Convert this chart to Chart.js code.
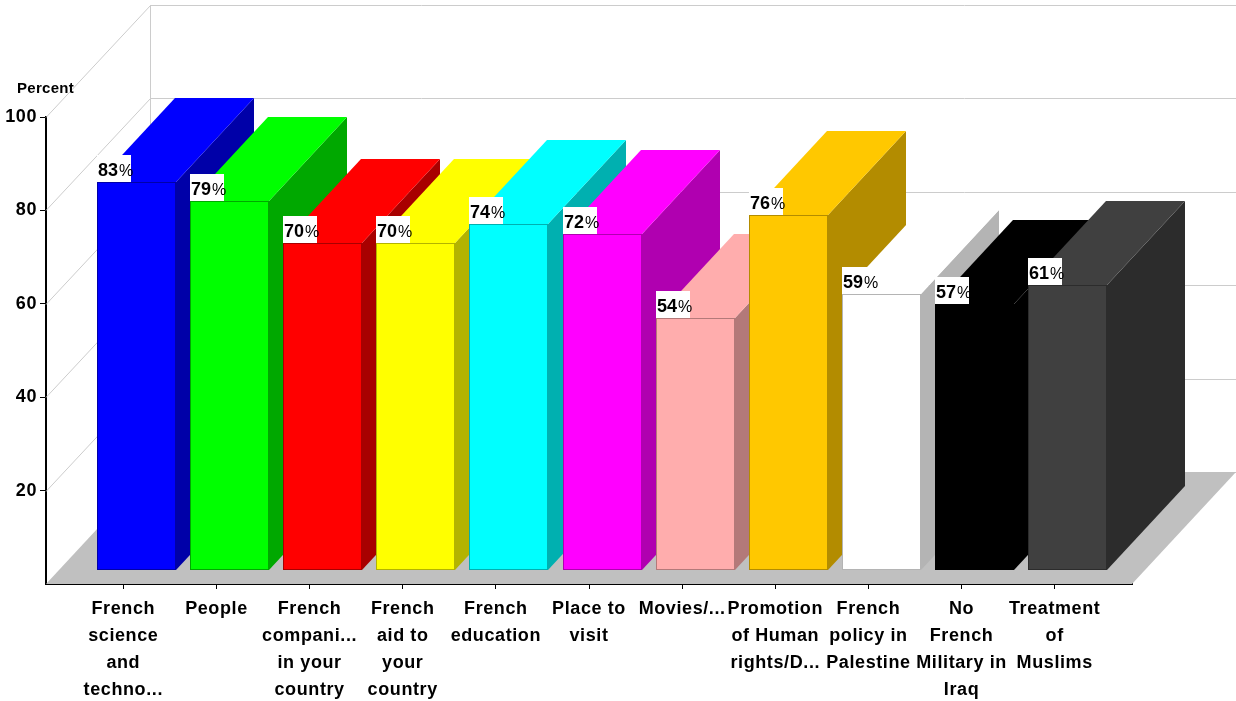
<!DOCTYPE html>
<html>
<head>
<meta charset="utf-8">
<title>Percent by category</title>
<script src="https://cdn.jsdelivr.net/npm/chart.js@4/dist/chart.umd.min.js"></script>
<style>
  html, body { margin: 0; padding: 0; background: #ffffff; }
  #wrap { width: 1236px; height: 701px; position: relative; }
</style>
</head>
<body>
<div id="wrap"><canvas id="chart"></canvas></div>
<script>
// Category labels, already broken into lines
const categories = [
  ["French", "science", "and", "techno..."],
  ["People"],
  ["French", "compani...", "in your", "country"],
  ["French", "aid to", "your", "country"],
  ["French", "education"],
  ["Place to", "visit"],
  ["Movies/..."],
  ["Promotion", "of Human", "rights/D..."],
  ["French", "policy in", "Palestine"],
  ["No", "French", "Military in", "Iraq"],
  ["Treatment", "of", "Muslims"]
];

// Percent values
const values = [83, 79, 70, 70, 74, 72, 54, 76, 59, 57, 61];

// Face colours of each column
const frontColors = ["#0000ff", "#00ff00", "#ff0000", "#ffff00", "#00ffff", "#ff00ff",
                     "#ffadad", "#ffc800", "#ffffff", "#000000", "#404040"];
const sideColors  = ["#0000a8", "#00a800", "#a80000", "#b3b300", "#00b0b0", "#b000b0",
                     "#b37979", "#b38c00", "#b4b4b4", "#000000", "#2c2c2c"];

// Value axis ticks
const yTicks = [0, 20, 40, 60, 80, 100];
const yTitle = "Percent";

const FONT = "'Liberation Sans', Arial, sans-serif";

// slightly wider text tracking for all canvas text
const tracking = {
  id: 'tracking',
  beforeDraw(chart) { chart.ctx.letterSpacing = '0.6px'; }
};

// 3D box drawing: walls, floor, columns and value labels
const box3d = {
  id: 'box3d',
  beforeDatasetsDraw(chart) {
    const { ctx, chartArea: a, scales: { y } } = chart;
    const dx = 104, dy = -112;        // depth of the plot box
    const f0 = 0.125, f1 = 0.875;     // column depth span within the box
    ctx.save();

    // wall grid lines
    ctx.strokeStyle = '#cccccc';
    ctx.lineWidth = 1;
    ctx.beginPath();
    yTicks.forEach(v => {
      const py = Math.round(y.getPixelForValue(v)) + 0.5;
      if (v > 0) {
        ctx.moveTo(a.left, py);
        ctx.lineTo(a.left + dx + 0.5, py + dy);
      }
      ctx.moveTo(a.left + dx, py + dy);
      ctx.lineTo(a.right + dx, py + dy);
    });
    const wx = Math.round(a.left + dx) + 0.5;
    ctx.moveTo(wx, a.top + dy);
    ctx.lineTo(wx, a.bottom + dy);
    ctx.stroke();

    // floor
    ctx.fillStyle = '#c0c0c0';
    ctx.beginPath();
    ctx.moveTo(a.left, a.bottom);
    ctx.lineTo(a.right, a.bottom);
    ctx.lineTo(a.right + dx, a.bottom + dy);
    ctx.lineTo(a.left + dx, a.bottom + dy);
    ctx.closePath();
    ctx.fill();

    // columns
    const meta = chart.getDatasetMeta(0);
    const ddx = dx * (f1 - f0), ddy = dy * (f1 - f0);
    const boxes = [];
    meta.data.forEach((bar, i) => {
      const w = Math.round(bar.width);
      const x0 = Math.round(bar.x - bar.width / 2 + dx * f0);
      const top = Math.round(bar.y + dy * f0);
      const bot = Math.round(bar.base + dy * f0);
      // right side
      ctx.fillStyle = sideColors[i];
      ctx.beginPath();
      ctx.moveTo(x0 + w, top);
      ctx.lineTo(x0 + w + ddx, top + ddy);
      ctx.lineTo(x0 + w + ddx, bot + ddy);
      ctx.lineTo(x0 + w, bot);
      ctx.closePath();
      ctx.fill();
      // top
      ctx.fillStyle = frontColors[i];
      ctx.beginPath();
      ctx.moveTo(x0, top);
      ctx.lineTo(x0 + ddx, top + ddy);
      ctx.lineTo(x0 + w + ddx, top + ddy);
      ctx.lineTo(x0 + w, top);
      ctx.closePath();
      ctx.fill();
      // front
      ctx.fillRect(x0, top, w, bot - top);
      ctx.strokeStyle = sideColors[i];
      ctx.strokeRect(x0 + 0.5, top + 0.5, w - 1, bot - top - 1);
      boxes.push({ x: x0, top, v: values[i] });
    });

    // value labels
    ctx.letterSpacing = '0px';
    boxes.forEach(b => {
      ctx.fillStyle = '#ffffff';
      ctx.fillRect(b.x, b.top - 27, 34, 27);
      ctx.fillStyle = '#000000';
      ctx.textBaseline = 'alphabetic';
      ctx.textAlign = 'left';
      ctx.font = `bold 18px ${FONT}`;
      const num = String(b.v);
      ctx.fillText(num, b.x + 1, b.top - 6);
      const nw = ctx.measureText(num).width;
      ctx.font = `16px ${FONT}`;
      ctx.fillText('%', b.x + 2 + nw, b.top - 6);
    });

    // axis title
    ctx.letterSpacing = '0.3px';
    ctx.font = `bold 15px ${FONT}`;
    ctx.fillStyle = '#000000';
    ctx.fillText(yTitle, 17, 93);

    ctx.restore();
    return false;
  }
};

new Chart(document.getElementById('chart'), {
  type: 'bar',
  data: {
    datasets: [{
      data: values.map((v, i) => ({ x: i, y: v })),
      backgroundColor: frontColors,
      barPercentage: 0.848,
      categoryPercentage: 1
    }]
  },
  options: {
    responsive: true,
    maintainAspectRatio: false,
    animation: false,
    events: [],
    layout: { padding: { top: 117, right: 104, left: 0, bottom: 0 } },
    plugins: { legend: { display: false }, tooltip: { enabled: false } },
    scales: {
      x: {
        type: 'linear',
        min: -0.83,
        max: 10.83,
        offset: false,
        z: 1,
        afterFit: s => { s.height = 117; },
        afterBuildTicks: s => { s.ticks = categories.map((c, i) => ({ value: i })); },
        border: { display: true, color: '#000000', width: 2 },
        grid: { display: true, offset: false, drawOnChartArea: false, tickLength: 5, color: '#000000' },
        ticks: {
          autoSkip: false,
          maxRotation: 0,
          minRotation: 0,
          padding: 7,
          color: '#000000',
          font: { family: FONT, size: 18, weight: 'bold', lineHeight: 1.5 },
          callback: v => categories[v]
        }
      },
      y: {
        min: 0,
        max: 100,
        z: 1,
        afterFit: s => { s.width = 46; },
        afterBuildTicks: s => { s.ticks = yTicks.map(v => ({ value: v })); },
        border: { display: true, color: '#000000', width: 2 },
        grid: {
          display: true, drawOnChartArea: false, tickLength: 6,
          tickColor: c => (c.tick && c.tick.value === 0) ? 'rgba(0,0,0,0)' : '#000000'
        },
        ticks: {
          padding: 3,
          color: '#000000',
          font: { family: FONT, size: 18, weight: 'bold' },
          callback: v => (v === 0 ? '' : v)
        }
      }
    }
  },
  plugins: [tracking, box3d]
});
</script>
</body>
</html>
